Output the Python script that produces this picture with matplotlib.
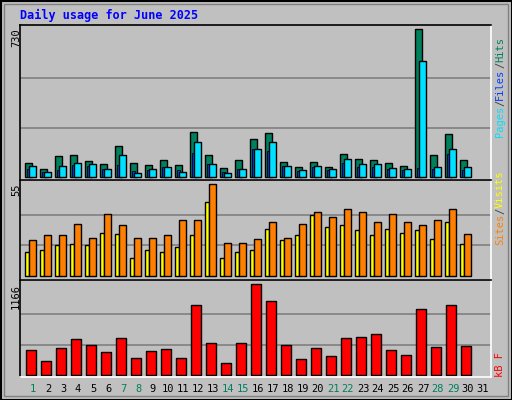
import matplotlib
matplotlib.use("Agg")
import matplotlib.pyplot as plt
import numpy as np

days = np.arange(1, 32)
weekend = [1, 7, 8, 14, 15, 21, 22, 28, 29]

# top panel (max 730); day 31 has no data yet
hits = [71, 41, 102, 107, 81, 66, 152, 71, 61, 86, 61, 224, 107, 46, 86, 185,
        219, 76, 51, 76, 51, 115, 91, 86, 71, 56, 730, 107, 214, 86]
files = [56, 26, 56, 71, 66, 41, 110, 21, 41, 51, 26, 175, 66, 21, 41, 140,
         175, 56, 36, 56, 41, 91, 66, 66, 46, 41, 571, 51, 140, 51]
pages = [41, 26, 36, 61, 56, 41, 61, 31, 36, 51, 36, 120, 66, 26, 41, 140,
         130, 56, 31, 51, 36, 71, 51, 51, 41, 36, 46, 41, 115, 36]
# middle panel (max 55)
visits = [21.5, 24.5, 24.5, 31, 23, 37, 30.5, 23, 23, 24.5, 33.5, 33.5, 55, 20, 20, 22,
          32, 23, 31, 38, 35, 40, 38, 32, 37, 32, 30.5, 33.5, 40, 25]
sites = [14.3, 15.5, 18.5, 19, 18.5, 26, 25, 11, 15.5, 14.3, 17.3, 24.5, 44, 11, 14.3, 15.5,
         28, 21.5, 24.5, 36.5, 29, 30.5, 27.5, 24.5, 28, 26, 27.5, 22, 32, 19]
# bottom panel (max 1166)
kbytes = [320, 179, 346, 461, 384, 295, 474, 218, 307, 333, 218, 897, 410, 154, 410, 1166,
          948, 384, 205, 346, 243, 474, 487, 525, 320, 256, 845, 359, 897, 372]

W, H = 512, 400
fig = plt.figure(figsize=(W / 100, H / 100), dpi=100)
fig.patch.set_facecolor("#C0C0C0")
mono = "DejaVu Sans Mono"


def px_axes(x0, y0, x1, y1):
    ax = fig.add_axes([x0 / W, 1 - y1 / H, (x1 - x0) / W, (y1 - y0) / H])
    ax.set_facecolor("#C0C0C0")
    ax.set_xlim(1 - 5 / 15, 1 + 466 / 15)
    ax.set_xticks([])
    ax.set_yticks([])
    for s in ax.spines.values():
        s.set_color("black")
        s.set_linewidth(1.2)
    ax.spines["right"].set_color("white")
    ax.spines["bottom"].set_color("white")
    return ax


def grid(ax, top):
    for f in (1 / 3, 2 / 3):
        ax.axhline(top * f, color="#808080", lw=1.2, zorder=0)


d = np.arange(1, len(hits) + 1, dtype=float)

# top panel
ax1 = px_axes(20, 25, 491, 180)
ax1.set_ylim(-730 * 3 / 148, 730 * (1 + 4 / 148))
grid(ax1, 730)
ax1.bar(d, hits, width=7 / 15, align="edge", color="#00805C", edgecolor="black", lw=1)
ax1.bar(d + 2 / 15, pages, width=3 / 15, align="edge", color="#0040FF", edgecolor="black", lw=0.6)
ax1.bar(d + 4 / 15, files, width=7 / 15, align="edge", color="#00E0FF", edgecolor="black", lw=1)

# middle panel
ax2 = px_axes(20, 180, 491, 280)
ax2.set_ylim(-55 * 4 / 92, 55 * (1 + 4 / 92))
grid(ax2, 55)
ax2.bar(d, sites, width=4 / 15, align="edge", color="#FFFF00", edgecolor="black", lw=1)
ax2.bar(d + 4 / 15, visits, width=7 / 15, align="edge", color="#FF8000", edgecolor="black", lw=1)

# bottom panel
ax3 = px_axes(20, 280, 491, 377)
ax3.set_ylim(-1166 * 2 / 91, 1166 * (1 + 4 / 91))
grid(ax3, 1166)
ax3.bar(d + 1 / 15, kbytes, width=10 / 15, align="edge", color="#FF0000", edgecolor="black", lw=1)

# day labels
for day in days:
    fig.text((25 + 15 * (day - 1) + 8) / W, 1 - 389 / H, str(day), ha="center", va="center",
             fontsize=7.5, family=mono,
             color="#00805C" if day in weekend else "black")

fig.text(20 / W, 1 - 15 / H, "Daily usage for June 2025", color="#0000FF",
         fontsize=8.5, fontweight="bold", family=mono, va="center")
for txt, y in (("730", 28), ("55", 184), ("1166", 284)):
    fig.text(16 / W, 1 - y / H, txt, rotation=90, ha="center", va="top", fontsize=7.5, family=mono)

renderer = fig.canvas.get_renderer()


def right_label(parts, y_bottom):
    y = y_bottom
    for txt, col in parts:
        t = fig.text(500 / W, 1 - y / H, txt, rotation=90, ha="center", va="bottom",
                     fontsize=7.5, family=mono, color=col)
        y -= t.get_window_extent(renderer).height


right_label([("Pages", "#00E0FF"), ("/", "#404040"), ("Files", "#0040FF"),
             ("/", "#404040"), ("Hits", "#00805C")], 137)
right_label([("Sites", "#FF8000"), ("/", "#404040"), ("Visits", "#FFFF00")], 245)
right_label([("kB F", "#FF0000")], 377)

# outer frame
fig.add_artist(plt.Rectangle((0.5 / W, 0.5 / H), (W - 1) / W, (H - 1) / H, transform=fig.transFigure,
                             fill=False, edgecolor="black", lw=1.5))
fig.add_artist(plt.Rectangle((4 / W, 4 / H), (W - 8) / W, (H - 8) / H, transform=fig.transFigure,
                             fill=False, edgecolor="#808080", lw=1))

fig.savefig("out.png", dpi=100, facecolor=fig.get_facecolor())
